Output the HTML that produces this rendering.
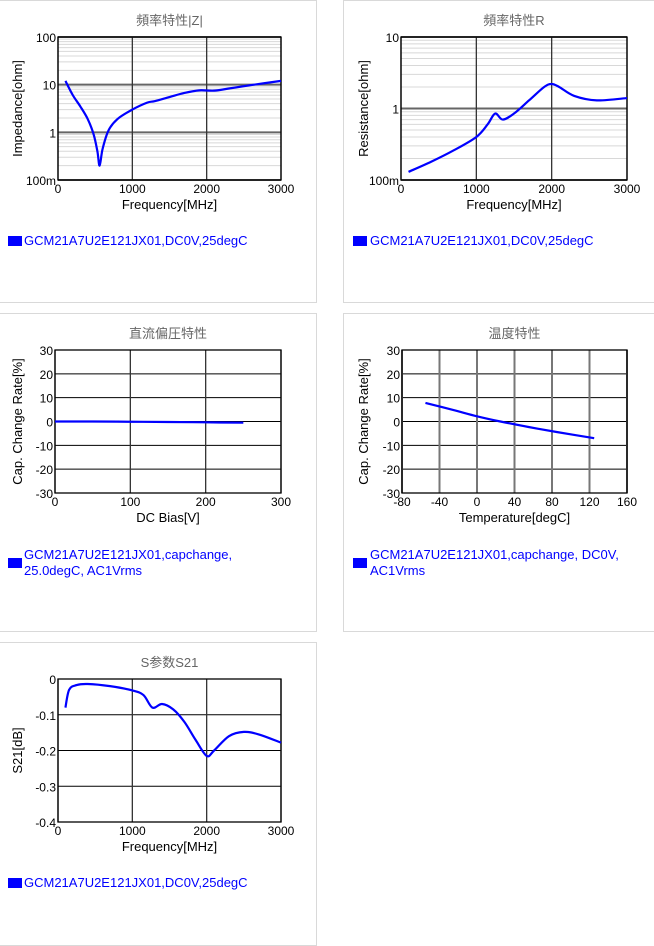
<!DOCTYPE html>
<html><head><meta charset="utf-8"><style>
body{margin:0;background:#fff;width:654px;height:946px;position:relative;overflow:hidden;font-family:"Liberation Sans","Noto Sans CJK SC",sans-serif}
.panel{position:absolute;border:1px solid #d9d9d9;background:#fff}
.legend{position:absolute;color:#0000ff;font-size:13px;line-height:16px}
.sw{position:absolute;width:14px;height:10px;background:#0000ff}
svg{position:absolute;left:0;top:0}
</style></head><body>
<div class="panel" style="left:-1px;top:0;width:316px;height:301px"></div>
<div class="panel" style="left:343px;top:0;width:312px;height:301px"></div>
<div class="panel" style="left:-1px;top:313px;width:316px;height:317px"></div>
<div class="panel" style="left:343px;top:313px;width:312px;height:317px"></div>
<div class="panel" style="left:-1px;top:642px;width:316px;height:302px"></div>

<div class="sw" style="left:8px;top:236px"></div>
<div class="legend" style="left:24px;top:233px">GCM21A7U2E121JX01,DC0V,25degC</div>
<div class="sw" style="left:353px;top:236px"></div>
<div class="legend" style="left:370px;top:233px">GCM21A7U2E121JX01,DC0V,25degC</div>
<div class="sw" style="left:8px;top:558px"></div>
<div class="legend" style="left:24px;top:547px">GCM21A7U2E121JX01,capchange,<br>25.0degC, AC1Vrms</div>
<div class="sw" style="left:353px;top:558px"></div>
<div class="legend" style="left:370px;top:547px">GCM21A7U2E121JX01,capchange, DC0V,<br>AC1Vrms</div>
<div class="sw" style="left:8px;top:878px"></div>
<div class="legend" style="left:24px;top:875px">GCM21A7U2E121JX01,DC0V,25degC</div>

<svg id="svg" width="654" height="946"></svg>
<script>
const zFreq=[100,200,300,400,480,530,560,600,680,800,1000,1200,1300,1500,1700,1900,2100,2300,2600,3000];
const zVal=[12,6,3.5,1.9,0.9,0.4,0.2,0.45,1.1,1.9,3,4.2,4.5,5.5,6.7,7.6,7.5,8.3,9.8,12];
const rFreq=[100,400,700,1000,1150,1250,1350,1500,1700,1900,2000,2100,2300,2600,3000];
const rVal=[0.13,0.18,0.26,0.4,0.6,0.85,0.7,0.85,1.3,2.0,2.2,2.0,1.5,1.3,1.4];
const dcBias=[0,50,100,150,200,250];
const dcVal=[0,0,-0.1,-0.2,-0.35,-0.5];
const temps=[-55,-25,0,25,55,85,125];
const tVal=[7.8,4.8,2.2,0,-2.3,-4.4,-7];
const sFreq=[100,150,250,400,700,1000,1150,1270,1400,1550,1700,1850,2000,2100,2300,2500,2700,3000];
const sVal=[-0.08,-0.03,-0.017,-0.014,-0.02,-0.032,-0.045,-0.08,-0.07,-0.085,-0.12,-0.17,-0.215,-0.2,-0.16,-0.148,-0.155,-0.178];
const linXTicks=[0,1000,2000,3000];
const logTicks=[[0.1,'100m'],[1,'1'],[10,'10'],[100,'100']];
const logTicksR=[[0.1,'100m'],[1,'1'],[10,'10']];
const capTicks=[-30,-20,-10,0,10,20,30];
const dcTicks=[0,100,200,300];
const tTicks=[-80,-40,0,40,80,120,160];
const sTicks=[-0.4,-0.3,-0.2,-0.1,0];

const NS='http://www.w3.org/2000/svg';
const svg=document.getElementById('svg');
function mk(t,a,txt){const e=document.createElementNS(NS,t);for(const k in a)e.setAttribute(k,a[k]);if(txt!==undefined)e.textContent=txt;svg.appendChild(e);return e;}
function chart(o){
  const {x0,x1,y0,y1,xmin,xmax,ymin,ymax,log}=o;
  const X=v=>x0+(v-xmin)/(xmax-xmin)*(x1-x0);
  const Y=log?v=>y1-(Math.log10(v)-Math.log10(ymin))/(Math.log10(ymax)-Math.log10(ymin))*(y1-y0):v=>y1-(v-ymin)/(ymax-ymin)*(y1-y0);
  let t=mk('text',{x:(x0+x1)/2,y:y0-12,'text-anchor':'middle','font-size':13,fill:'#666'},o.title);
  
  if(log){for(let d=Math.log10(ymin);d<Math.log10(ymax);d++){for(let m=2;m<10;m++){const v=Math.pow(10,d)*m;const yy=Y(v);
    const l=mk('line',{x1:x0,x2:x1,y1:yy,y2:yy,stroke:'#d8d8d8','stroke-width':1});}}}
  o.yt.forEach(tk=>{const v=Array.isArray(tk)?tk[0]:tk,lab=Array.isArray(tk)?tk[1]:String(tk);const yy=Y(v);
    const g=mk('line',{x1:x0,x2:x1,y1:yy,y2:yy,stroke:log?'#666':'#000','stroke-width':log?2:1});
    const tx=mk('text',{x:x0-2,y:yy+5,'text-anchor':'end','font-size':12,fill:'#000'},lab);});
  o.xt.forEach(v=>{const xx=X(v);
    const g=mk('line',{x1:xx,x2:xx,y1:y0,y2:y1,stroke:o.vgray?'#777':'#333','stroke-width':o.vgray?2:1.3});
    const tx=mk('text',{x:xx,y:y1+13,'text-anchor':'middle','font-size':12,fill:'#000'},String(v));});
  const b=mk('rect',{x:x0,y:y0,width:x1-x0,height:y1-y0,fill:'none',stroke:'#000','stroke-width':1.3});
  const xl=mk('text',{x:(x0+x1)/2,y:y1+29,'text-anchor':'middle','font-size':13,fill:'#000'},o.xlab);
  const cy=(y0+y1)/2,cx=o.ylx;
  const yl=mk('text',{x:cx,y:cy,'text-anchor':'middle','font-size':13,fill:'#000',transform:`rotate(-90 ${cx} ${cy})`},o.ylab);
  const P=o.xs.map((v,i)=>[X(v),Y(o.ys[i])]);
  let d='M'+P[0][0]+','+P[0][1];
  for(let i=0;i<P.length-1;i++){const p0=P[Math.max(0,i-1)],p1=P[i],p2=P[i+1],p3=P[Math.min(P.length-1,i+2)];
    d+=` C${p1[0]+(p2[0]-p0[0])/6},${p1[1]+(p2[1]-p0[1])/6} ${p2[0]-(p3[0]-p1[0])/6},${p2[1]-(p3[1]-p1[1])/6} ${p2[0]},${p2[1]}`;}
  const s=mk('path',{d:d,fill:'none',stroke:'#0000ff','stroke-width':2.2});
}
chart({title:'頻率特性|Z|',x0:58,x1:281,y0:37,y1:180,xmin:0,xmax:3000,ymin:0.1,ymax:100,log:true,yt:logTicks,xt:linXTicks,xlab:'Frequency[MHz]',ylab:'Impedance[ohm]',ylx:22,xs:zFreq,ys:zVal});
chart({title:'頻率特性R',x0:401,x1:627,y0:37,y1:180,xmin:0,xmax:3000,ymin:0.1,ymax:10,log:true,yt:logTicksR,xt:linXTicks,xlab:'Frequency[MHz]',ylab:'Resistance[ohm]',ylx:368,xs:rFreq,ys:rVal});
chart({title:'直流偏圧特性',x0:55,x1:281,y0:350,y1:493,xmin:0,xmax:300,ymin:-30,ymax:30,yt:capTicks,xt:dcTicks,xlab:'DC Bias[V]',ylab:'Cap. Change Rate[%]',ylx:22,xs:dcBias,ys:dcVal});
chart({title:'温度特性',x0:402,x1:627,y0:350,y1:493,xmin:-80,xmax:160,ymin:-30,ymax:30,yt:capTicks,xt:tTicks,vgray:true,xlab:'Temperature[degC]',ylab:'Cap. Change Rate[%]',ylx:368,xs:temps,ys:tVal});
chart({title:'S参数S21',x0:58,x1:281,y0:679,y1:822,xmin:0,xmax:3000,ymin:-0.4,ymax:0,yt:sTicks,xt:linXTicks,xlab:'Frequency[MHz]',ylab:'S21[dB]',ylx:22,xs:sFreq,ys:sVal});
</script>
</body></html>
